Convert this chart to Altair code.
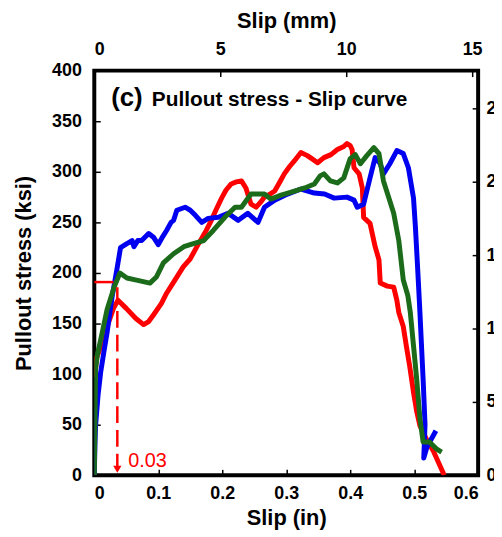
import altair as alt
import pandas as pd

# ---------------- data ----------------
red_x = [0.001, 0.003, 0.01, 0.02, 0.03, 0.037, 0.05, 0.065, 0.077, 0.085, 0.093, 0.105, 0.113,
         0.125, 0.139, 0.15, 0.163, 0.175, 0.183, 0.19, 0.199, 0.206, 0.214, 0.222, 0.23, 0.237,
         0.245, 0.253, 0.26, 0.266, 0.275, 0.282, 0.29, 0.297, 0.305, 0.313, 0.323, 0.333, 0.34,
         0.349, 0.359, 0.37, 0.38, 0.39, 0.395, 0.4, 0.403, 0.406, 0.414, 0.419, 0.421, 0.431,
         0.439, 0.445, 0.447, 0.458, 0.468, 0.473, 0.476, 0.483, 0.488, 0.493, 0.499, 0.504,
         0.509, 0.519, 0.53, 0.54, 0.547]
red_y = [97, 115, 127, 147, 165, 173, 165, 155, 149, 152, 159, 170, 180,
         192, 206, 214, 229, 242, 252, 262, 274, 282, 288, 290, 291, 284,
         268, 265, 270, 275, 278, 281, 290, 298, 305, 311, 319, 316, 313,
         309, 314, 317, 322, 325, 328, 326, 322, 304, 298, 284, 255, 249,
         226, 213, 190, 187, 186, 173, 161, 147, 127, 108, 82, 63,
         49, 36, 24, 10, 0]

blue_x = [0.0, 0.001, 0.002, 0.006, 0.01, 0.015, 0.02, 0.028, 0.036, 0.041, 0.051, 0.059, 0.062,
          0.068, 0.074, 0.085, 0.093, 0.1, 0.107, 0.113, 0.12, 0.124, 0.129, 0.142, 0.15, 0.158,
          0.168, 0.178, 0.194, 0.209, 0.225, 0.24, 0.256, 0.266, 0.282, 0.302, 0.323, 0.344,
          0.36, 0.375, 0.395, 0.406, 0.411, 0.421, 0.431, 0.439, 0.447, 0.452, 0.462, 0.473,
          0.483, 0.491, 0.499, 0.502, 0.505, 0.507, 0.509, 0.514, 0.517, 0.515, 0.52, 0.534]
blue_y = [0, 30, 49, 80, 102, 122, 141, 177, 206, 225, 229, 232, 226,
          232, 232, 239, 235, 228, 236, 242, 250, 252, 262, 265, 262, 257,
          250, 254, 255, 259, 252, 259, 250, 265, 272, 278, 283, 279,
          278, 274, 275, 272, 265, 268, 294, 314, 308, 298, 308, 321,
          318, 304, 274, 245, 210, 186, 161, 95, 50, 17, 28, 44]

green_x = [0.0, 0.001, 0.002, 0.005, 0.01, 0.02, 0.031, 0.04, 0.051, 0.066, 0.087, 0.097, 0.108,
           0.124, 0.14, 0.155, 0.171, 0.186, 0.204, 0.22, 0.23, 0.245, 0.266, 0.276, 0.292,
           0.313, 0.329, 0.344, 0.353, 0.359, 0.369, 0.38, 0.39, 0.4, 0.408, 0.416, 0.426,
           0.437, 0.445, 0.452, 0.46, 0.468, 0.476, 0.483, 0.49, 0.494, 0.499, 0.504, 0.509,
           0.514, 0.524, 0.535, 0.543]
green_y = [0, 50, 105, 120, 134, 164, 186, 200, 195, 193, 190, 196, 210,
           219, 226, 229, 232, 242, 255, 265, 265, 278, 278, 273, 277,
           281, 284, 288, 296, 298, 291, 289, 294, 313, 317, 308, 316,
           324, 318, 291, 275, 259, 232, 193, 178, 161, 128, 95, 56,
           33, 33, 26, 23]

series_names = ["Specimen 1", "Specimen 2", "Specimen 3"]
series_colors = ["#FF0000", "#0000F0", "#1B6B1B"]

marker_slip_in = 0.036      # dashed indicator (labelled 0.03 in)
marker_stress = 191         # horizontal red mark (ksi)
marker_label = "0.03"

x_ticks_in = [0, 0.1, 0.2, 0.3, 0.4, 0.5, 0.6]
y_ticks_ksi = [0, 50, 100, 150, 200, 250, 300, 350, 400]
x_ticks_mm = [0, 5, 10, 15]
y_ticks_mpa = [0, 500, 1000, 1500, 2000, 2500]

IN_MAX, KSI_MAX = 0.6, 400
MM_MAX = IN_MAX * 25.4
MPA_MAX = KSI_MAX * 6.894757

rows = []
for name, xs, ys in zip(series_names, [red_x, blue_x, green_x], [red_y, blue_y, green_y]):
    for i, (a, b) in enumerate(zip(xs, ys)):
        rows.append({"series": name, "slip_in": a, "stress_ksi": b, "idx": i})
df = pd.DataFrame(rows)

W, H = 387, 408
FONT = "Liberation Sans"

xs_in = alt.Scale(domain=[0, IN_MAX], nice=False, zero=False)
ys_ksi = alt.Scale(domain=[0, KSI_MAX], nice=False)
xs_mm = alt.Scale(domain=[0, MM_MAX], nice=False, zero=False)
ys_mpa = alt.Scale(domain=[0, MPA_MAX], nice=False)

lines = alt.Chart(df).mark_line(strokeWidth=5, clip=True, strokeJoin="round").encode(
    x=alt.X("slip_in:Q", scale=xs_in,
            axis=alt.Axis(orient="bottom", values=x_ticks_in, format=".1~f", title="Slip (in)",
                          ticks=False, domain=False, grid=False, labelPadding=9, titlePadding=6)),
    y=alt.Y("stress_ksi:Q", scale=ys_ksi,
            axis=alt.Axis(orient="left", values=y_ticks_ksi, title="Pullout stress (ksi)",
                          ticks=False, domain=False, grid=False, labelPadding=13, titlePadding=16)),
    color=alt.Color("series:N", scale=alt.Scale(domain=series_names, range=series_colors), legend=None),
    order="idx:Q",
)

# annotation: horizontal red mark, dashed drop line, arrow head, label
ann_h = pd.DataFrame({"x0": [0.0], "x1": [0.03], "y": [marker_stress]})
hline = alt.Chart(ann_h).mark_rule(color="#FF0000", strokeWidth=2.5).encode(
    x=alt.X("x0:Q", scale=xs_in, axis=None), x2="x1:Q",
    y=alt.Y("y:Q", scale=ys_ksi, axis=None))

ann_v = pd.DataFrame({"x": [marker_slip_in], "y0": [186], "y1": [8]})
vline = alt.Chart(ann_v).mark_rule(color="#FF0000", strokeWidth=2.5, strokeDash=[17, 7]).encode(
    x=alt.X("x:Q", scale=xs_in, axis=None),
    y=alt.Y("y0:Q", scale=ys_ksi, axis=None), y2="y1:Q")

ann_arrow = pd.DataFrame({"x": [marker_slip_in], "y": [6]})
arrow = alt.Chart(ann_arrow).mark_point(shape="triangle-down", filled=True, color="#FF0000",
                                        size=70, opacity=1).encode(
    x=alt.X("x:Q", scale=xs_in, axis=None),
    y=alt.Y("y:Q", scale=ys_ksi, axis=None))

ann_t = pd.DataFrame({"x": [0.053], "y": [14], "t": [marker_label]})
label = alt.Chart(ann_t).mark_text(color="#FF0000", fontSize=20, font=FONT, align="left",
                                   baseline="middle").encode(
    x=alt.X("x:Q", scale=xs_in, axis=None),
    y=alt.Y("y:Q", scale=ys_ksi, axis=None), text="t:N")

# panel title text
title_df = pd.DataFrame({"t": ["(c)"]})
title_c = alt.Chart(title_df).mark_text(fontSize=26, fontWeight="bold", font=FONT, align="left",
                                        baseline="alphabetic", color="black").encode(
    x=alt.value(17), y=alt.value(36), text="t:N")
title_df2 = pd.DataFrame({"t": ["Pullout stress - Slip curve"]})
title_main = alt.Chart(title_df2).mark_text(fontSize=21, fontWeight="bold", font=FONT, align="left",
                                            baseline="alphabetic", color="black").encode(
    x=alt.value(58), y=alt.value(36), text="t:N")

# secondary axes (mm on top, MPa on right)
ext = pd.DataFrame({"mm": [0, MM_MAX], "mpa": [0, MPA_MAX], "inch": [0, IN_MAX], "ksi": [0, KSI_MAX]})
sec_axes = alt.Chart(ext).mark_point(opacity=0).encode(
    x=alt.X("mm:Q", scale=xs_mm,
            axis=alt.Axis(orient="top", values=x_ticks_mm, title="Slip (mm)", ticks=False,
                          domain=False, grid=False, labelPadding=12, titlePadding=8)),
    y=alt.Y("mpa:Q", scale=ys_mpa,
            axis=alt.Axis(orient="right", values=y_ticks_mpa, format="d", title=None, ticks=False,
                          domain=False, grid=False, labelPadding=8, labelAlign="left")))

# inward ticks
tick_ax = dict(labels=False, domain=False, grid=False, ticks=True, tickSize=6, tickWidth=1.5,
               tickColor="black", title=None, offset=-6)
ticks_bl = alt.Chart(ext).mark_point(opacity=0).encode(
    x=alt.X("inch:Q", scale=xs_in, axis=alt.Axis(orient="bottom", values=x_ticks_in, **tick_ax)),
    y=alt.Y("ksi:Q", scale=ys_ksi, axis=alt.Axis(orient="left", values=y_ticks_ksi, **tick_ax)))
ticks_tr = alt.Chart(ext).mark_point(opacity=0).encode(
    x=alt.X("mm:Q", scale=xs_mm, axis=alt.Axis(orient="top", values=x_ticks_mm, **tick_ax)),
    y=alt.Y("mpa:Q", scale=ys_mpa, axis=alt.Axis(orient="right", values=y_ticks_mpa, **tick_ax)))

chart = alt.layer(
    sec_axes, ticks_bl, ticks_tr, lines, hline, vline, arrow, label, title_c, title_main
).resolve_scale(x="independent", y="independent").resolve_axis(
    x="independent", y="independent"
).properties(
    width=W, height=H,
    background="white",
    autosize=alt.AutoSizeParams(type="none"),
    padding={"left": 87, "top": 61, "right": 16, "bottom": 55},
).configure_view(
    stroke="black", strokeWidth=4
).configure_axis(
    labelFont=FONT, labelFontSize=18, labelFontWeight="bold", labelColor="black",
    titleFont=FONT, titleFontSize=22, titleFontWeight="bold", titleColor="black",
)

chart.save("out.html", embed_options={"renderer": "svg", "actions": False})
